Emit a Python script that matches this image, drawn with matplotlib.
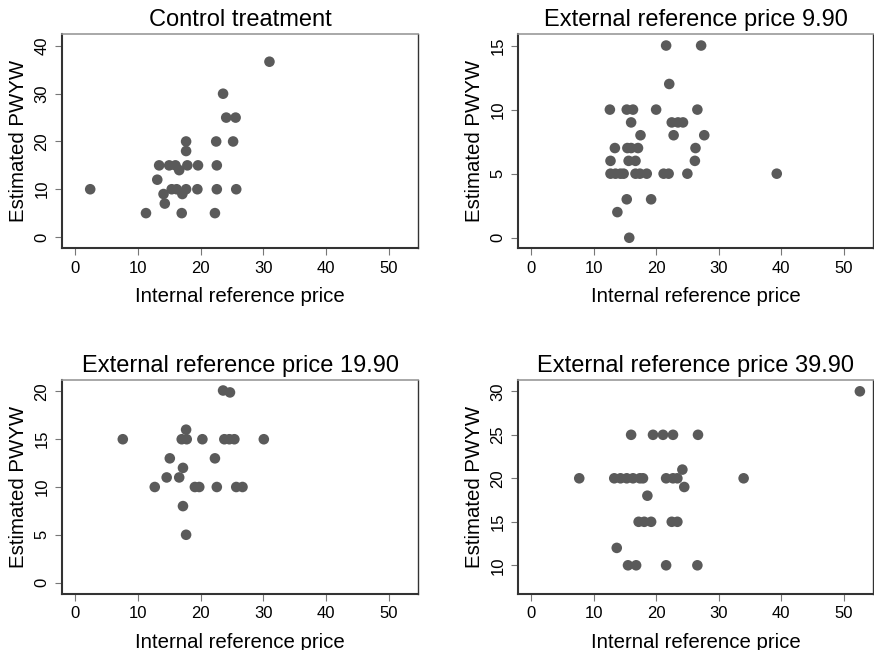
import matplotlib
matplotlib.use("Agg")
import matplotlib.pyplot as plt

plt.rcParams['font.family'] = ['Liberation Sans', 'DejaVu Sans']

titles = ["Control treatment", "External reference price 9.90",
          "External reference price 19.90", "External reference price 39.90"]

# Control treatment
x_control = [2.4, 31.0, 23.6, 24.1, 25.6, 17.7, 17.7, 22.5, 25.2,
             13.4, 15.0, 16.0, 16.6, 17.9, 19.6, 22.6, 13.1,
             14.1, 15.4, 16.2, 17.1, 17.7, 19.5, 22.6, 25.7,
             14.3, 11.3, 17.0, 22.3]
y_control = [10, 36.7, 30, 25, 25, 20, 18, 20, 20,
             15, 15, 15, 14, 15, 15, 15, 12,
             9, 10, 10, 9, 10, 10, 10, 10,
             7, 5, 5, 5]

# External reference price 9.90
x_990 = [21.6, 27.2, 22.1,
         12.6, 15.3, 16.3, 20.0, 26.6,
         16.0, 22.5, 23.5, 24.3,
         17.5, 22.8, 27.7,
         13.4, 15.4, 16.0, 17.1, 26.3,
         12.7, 15.6, 16.7, 26.2,
         12.7, 13.5, 14.3, 14.8, 16.7, 17.4, 18.5, 21.2, 22.0, 25.0, 39.3,
         15.3, 19.2, 13.8, 15.7]
y_990 = [15, 15, 12,
         10, 10, 10, 10, 10,
         9, 9, 9, 9,
         8, 8, 8,
         7, 7, 7, 7, 7,
         6, 6, 6, 6,
         5, 5, 5, 5, 5, 5, 5, 5, 5, 5, 5,
         3, 3, 2, 0]

# External reference price 19.90
x_1990 = [23.6, 24.7, 17.7,
          7.6, 17.0, 17.8, 20.3, 23.8, 24.6, 25.4, 30.1,
          15.1, 22.3, 17.2, 14.6, 16.6,
          12.7, 19.1, 19.8, 22.6, 25.7, 26.7,
          17.2, 17.7]
y_1990 = [20.1, 19.9, 16,
          15, 15, 15, 15, 15, 15, 15, 15,
          13, 13, 12, 11, 11,
          10, 10, 10, 10, 10, 10,
          8, 5]

# External reference price 39.90
x_3990 = [52.6,
          16.0, 19.5, 21.1, 22.7, 26.7,
          24.2,
          7.7, 13.3, 14.3, 15.3, 16.3, 17.4, 17.9, 21.6, 22.7, 23.4, 34.0,
          24.5, 18.6,
          17.2, 18.1, 19.2, 22.5, 23.4,
          13.7,
          15.5, 16.8, 21.6, 26.6]
y_3990 = [30,
          25, 25, 25, 25, 25,
          21,
          20, 20, 20, 20, 20, 20, 20, 20, 20, 20, 20,
          19, 18,
          15, 15, 15, 15, 15,
          12,
          10, 10, 10, 10]

xs = [x_control, x_990, x_1990, x_3990]
ys = [y_control, y_990, y_1990, y_3990]
x_ticks = [0, 10, 20, 30, 40, 50]
y_ticks = [[0, 10, 20, 30, 40], [0, 5, 10, 15], [0, 5, 10, 15, 20], [10, 15, 20, 25, 30]]
y_lims = [(-2.3, 42.5), (-0.8, 15.9), (-1.2, 21.2), (6.7, 31.3)]
x_lim = (-2.1, 54.7)

W, H = 874, 650
fig = plt.figure(figsize=(W / 100, H / 100), dpi=100)
boxes = [(62, 34, 418, 248), (518, 34, 873, 248), (62, 380, 418, 594), (518, 380, 873, 594)]

for i in range(4):
    l, t, r, b = boxes[i]
    ax = fig.add_axes([l / W, 1 - b / H, (r - l) / W, (b - t) / H])
    ax.scatter(xs[i], ys[i], s=58, color='#5a5a5a', edgecolors='none', zorder=3)
    ax.set_xlim(*x_lim)
    ax.set_ylim(*y_lims[i])
    ax.set_xticks(x_ticks)
    ax.set_yticks(y_ticks[i])
    ax.set_yticklabels([str(v) for v in y_ticks[i]], rotation=90, va='center')
    ax.tick_params(axis='both', labelsize=12, length=5, width=0.8, color='#777777', pad=4)
    ax.set_title(titles[i], fontsize=17, pad=6)
    ax.set_xlabel("Internal reference price", fontsize=14.7, labelpad=8)
    ax.set_ylabel("Estimated PWYW", fontsize=14.7, labelpad=5)
    for side in ['left', 'bottom']:
        ax.spines[side].set_color('#333333')
        ax.spines[side].set_linewidth(1.5)
    ax.spines['right'].set_color('#333333')
    ax.spines['right'].set_linewidth(1.0)
    ax.spines['top'].set_color('#999999')
    ax.spines['top'].set_linewidth(1.2)

fig.savefig("out.png", dpi=100)
